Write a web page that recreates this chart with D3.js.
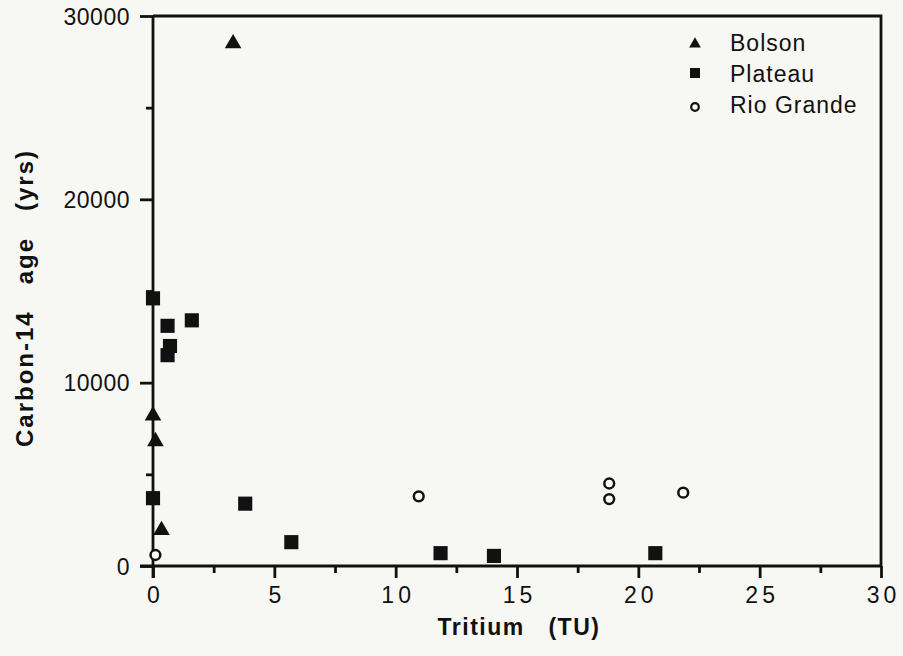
<!DOCTYPE html>
<html>
<head>
<meta charset="utf-8">
<script src="https://cdn.jsdelivr.net/npm/d3@7"></script>
<style>
  body { margin: 0; background: #f7f7f4; }
  text { font-family: "Liberation Sans", Arial, sans-serif; fill: #111; }
</style>
</head>
<body>
<div id="chart"></div>
<script>
// tritium (TU) vs carbon-14 age (yrs)
var bolsonX = [3.3, 0.0, 0.1, 0.35]
var bolsonY = [28500, 8200, 6800, 1950]

var plateauX = [0.0, 0.6, 0.7, 0.6, 1.6, 0.0, 3.8, 5.7, 11.85, 14.05, 20.7]
var plateauY = [14600, 13100, 12000, 11500, 13400, 3700, 3400, 1300, 700, 550, 700]

var rioX = [0.1, 10.95, 18.8, 18.8, 21.85]
var rioY = [600, 3800, 4500, 3650, 4000]

var xTicks = [0, 5, 10, 15, 20, 25, 30]
var yTicks = [0, 10000, 20000, 30000]
var seriesNames = ['Bolson', 'Plateau', 'Rio Grande']

var width = 903, height = 656
var margin = { top: 16, right: 22, bottom: 90, left: 153 }

var svg = d3.select('#chart')
  .append('svg')
  .attr('width', width)
  .attr('height', height)

var x = d3.scaleLinear().domain([0, 30]).range([margin.left, width - margin.right])
var y = d3.scaleLinear().domain([0, 30000]).range([height - margin.bottom, margin.top])

var stroke = '#111'
var lw = 2.8

/** frame: top and right */
svg.append('path')
  .attr('d', 'M' + x(0) + ',' + y(30000) + 'H' + x(30) + 'V' + y(0))
  .attr('fill', 'none')
  .attr('stroke', stroke)
  .attr('stroke-width', lw)

/** minor ticks */
var xMinor = d3.range(2.5, 30, 5)
var yMinor = d3.range(5000, 30000, 10000)

var xAxis = svg.append('g')
  .attr('transform', 'translate(0,' + y(0) + ')')
xAxis.call(d3.axisBottom(x).tickValues(xMinor).tickSize(7).tickFormat(''))
xAxis.append('g').attr('class', 'major-x')
  .call(d3.axisBottom(x).tickValues(xTicks).tickSize(12).tickFormat(d3.format('d')))

var yAxis = svg.append('g')
  .attr('transform', 'translate(' + x(0) + ',0)')
yAxis.call(d3.axisLeft(y).tickValues(yMinor).tickSize(7).tickFormat(''))
yAxis.append('g').attr('class', 'major-y')
  .call(d3.axisLeft(y).tickValues(yTicks).tickSize(13).tickFormat(d3.format('d')))

svg.selectAll('.domain').remove()
svg.selectAll('.tick line').attr('stroke', stroke).attr('stroke-width', lw)
svg.selectAll('.tick text')
  .attr('fill', '#111')
  .style('font-size', '23px')

svg.selectAll('.major-x .tick text')
  .attr('y', 37)
  .attr('dy', 0)
  .attr('dx', 2)
  .style('letter-spacing', '4px')

svg.selectAll('.major-y .tick text')
  .attr('x', -23)
  .attr('dy', '0.35em')
  .style('letter-spacing', '0.5px')

// axis lines drawn on top
svg.append('line')
  .attr('x1', x(0) - 13).attr('x2', x(30))
  .attr('y1', y(0)).attr('y2', y(0))
  .attr('stroke', stroke).attr('stroke-width', lw)
svg.append('line')
  .attr('x1', x(0)).attr('x2', x(0))
  .attr('y1', y(30000)).attr('y2', y(0) + 12)
  .attr('stroke', stroke).attr('stroke-width', lw)

/** axis titles */
svg.append('text')
  .attr('x', 519)
  .attr('y', 635)
  .attr('text-anchor', 'middle')
  .style('font-size', '23px')
  .style('font-weight', 'bold')
  .style('letter-spacing', '1.5px')
  .style('white-space', 'pre')
  .text('Tritium   (TU)')

svg.append('text')
  .attr('transform', 'translate(33,298) rotate(-90)')
  .attr('text-anchor', 'middle')
  .style('font-size', '24px')
  .style('font-weight', 'bold')
  .style('letter-spacing', '2px')
  .style('white-space', 'pre')
  .text('Carbon-14   age   (yrs)')

/** marks */
var tri = d3.symbol().type(d3.symbolTriangle)
var sq = d3.symbol().type(d3.symbolSquare)

svg.append('g').selectAll('path')
  .data(d3.zip(plateauX, plateauY))
  .enter()
  .append('path')
  .attr('d', sq.size(200))
  .attr('transform', d => 'translate(' + x(d[0]) + ',' + y(d[1]) + ')')
  .attr('fill', '#111')

svg.append('g').selectAll('path')
  .data(d3.zip(bolsonX, bolsonY))
  .enter()
  .append('path')
  .attr('d', tri.size(120))
  .attr('transform', d => 'translate(' + x(d[0]) + ',' + y(d[1]) + ')')
  .attr('fill', '#111')

svg.append('g').selectAll('circle')
  .data(d3.zip(rioX, rioY))
  .enter()
  .append('circle')
  .attr('cx', d => x(d[0]))
  .attr('cy', d => y(d[1]))
  .attr('r', 4.9)
  .attr('fill', '#fbfbf9')
  .attr('stroke', '#111')
  .attr('stroke-width', 2.5)

/** legend */
var legend = svg.append('g').attr('transform', 'translate(695,43)')
var items = legend.selectAll('g')
  .data(seriesNames)
  .enter()
  .append('g')
  .attr('transform', (d, i) => 'translate(0,' + i * 31 + ')')

items.each(function(d, i) {
  var g = d3.select(this)
  if (i === 0) g.append('path').attr('d', tri.size(60)).attr('transform', 'translate(0,1)').attr('fill', '#111')
  else if (i === 1) g.append('path').attr('d', sq.size(100)).attr('transform', 'translate(0,-1)').attr('fill', '#111')
  else g.append('circle').attr('cy', 2).attr('r', 3.8).attr('fill', 'none').attr('stroke', '#111').attr('stroke-width', 2.2)
})

items.append('text')
  .attr('x', 35)
  .attr('dy', '0.36em')
  .style('font-size', '23px')
  .style('letter-spacing', '1px')
  .text(d => d)
</script>
</body>
</html>
